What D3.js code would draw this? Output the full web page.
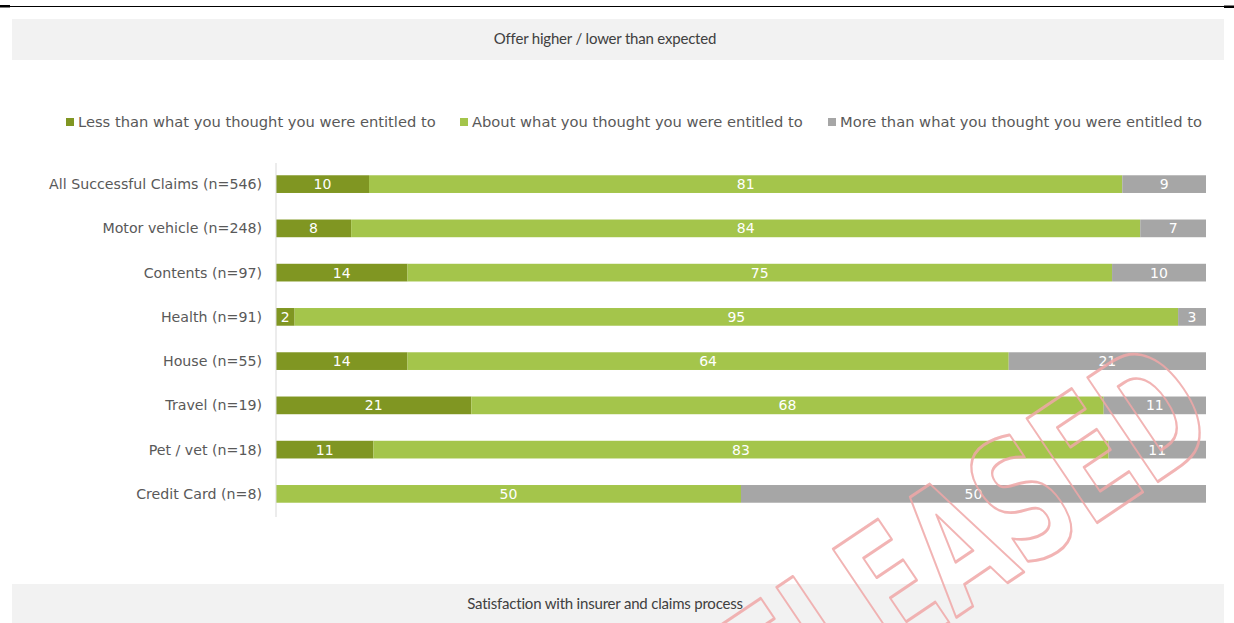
<!DOCTYPE html>
<html>
<head>
<meta charset="utf-8">
<script src="https://cdn.jsdelivr.net/npm/d3@7"></script>
<style>
  html, body { margin: 0; padding: 0; background: #fff; overflow: hidden; }
  svg { display: block; }
</style>
</head>
<body>
<div id="chart"></div>
<script>
const categories = [
  "All Successful Claims (n=546)",
  "Motor vehicle (n=248)",
  "Contents (n=97)",
  "Health (n=91)",
  "House (n=55)",
  "Travel (n=19)",
  "Pet / vet (n=18)",
  "Credit Card (n=8)"
];
const seriesNames = [
  "Less than what you thought you were entitled to",
  "About what you thought you were entitled to",
  "More than what you thought you were entitled to"
];
const lessValues  = [10, 8, 14, 2, 14, 21, 11, 0];
const aboutValues = [81, 84, 75, 95, 64, 68, 83, 50];
const moreValues  = [9, 7, 10, 3, 21, 11, 11, 50];
const colors = ["#809622", "#a4c54b", "#a6a6a6"];

const width = 1234, height = 623;
const svg = d3.select("#chart").append("svg").attr("width", width).attr("height", height);

// top rule
svg.append("line").attr("x1", 10).attr("x2", 1224).attr("y1", 6.5).attr("y2", 6.5)
  .attr("stroke", "#000").attr("stroke-width", 1);
svg.append("rect").attr("x", 0).attr("y", 5).attr("width", 10).attr("height", 2.5).attr("fill", "#000");
svg.append("rect").attr("x", 1224).attr("y", 5.5).attr("width", 10).attr("height", 2.5).attr("fill", "#000");

// section headers
function header(y, label) {
  svg.append("rect").attr("x", 12).attr("y", y).attr("width", 1212).attr("height", 41).attr("fill", "#f2f2f2");
  svg.append("text").attr("x", 605).attr("y", y + 21).attr("text-anchor", "middle")
    .attr("dominant-baseline", "middle").attr("font-family", "Lato, 'Open Sans', sans-serif")
    .attr("font-size", "15px").attr("letter-spacing", "-0.2px").attr("fill", "#404040").text(label);
}
header(19, "Offer higher / lower than expected");
header(584, "Satisfaction with insurer and claims process");

// legend
const legendX = [66, 460, 828];
const legend = svg.append("g").attr("font-family", "'DejaVu Sans', sans-serif").attr("font-size", "14.7px");
seriesNames.forEach((name, i) => {
  legend.append("rect").attr("x", legendX[i]).attr("y", 118).attr("width", 8).attr("height", 8).attr("fill", colors[i]);
  legend.append("text").attr("x", legendX[i] + 12).attr("y", 123).attr("dominant-baseline", "middle")
    .attr("fill", "#595959").text(name);
});

// scales
const y = d3.scaleBand().domain(categories).range([162, 516]).paddingInner(0.6).paddingOuter(0.3);
const x = d3.scaleLinear().domain([0, 1]).range([276, 1206]);

const rows = categories.map((c, i) => ({ cat: c, less: lessValues[i], about: aboutValues[i], more: moreValues[i] }));
const keys = ["less", "about", "more"];
rows.forEach(r => { const t = r.less + r.about + r.more; keys.forEach(k => r[k + "P"] = r[k] / t); });
const stack = d3.stack().keys(keys.map(k => k + "P"));
const series = stack(rows);

const bars = svg.append("g");
series.forEach((s, si) => {
  const g = bars.append("g").attr("fill", colors[si]);
  g.selectAll("rect").data(s).enter().append("rect")
    .attr("x", d => x(d[0]))
    .attr("y", d => y(d.data.cat))
    .attr("width", d => x(d[1]) - x(d[0]))
    .attr("height", y.bandwidth());
  bars.append("g").selectAll("text").data(s.filter(d => d.data[keys[si]] > 0)).enter().append("text")
    .attr("x", d => (x(d[0]) + x(d[1])) / 2)
    .attr("y", d => y(d.data.cat) + y.bandwidth() / 2 + 1)
    .attr("text-anchor", "middle").attr("dominant-baseline", "middle")
    .attr("font-family", "'DejaVu Sans', sans-serif").attr("font-size", "14px")
    .attr("fill", "#fff").text(d => d.data[keys[si]]);
});

// axis
const yAxis = svg.append("g").attr("transform", "translate(276,0)")
  .call(d3.axisLeft(y).tickSize(0).tickPadding(14));
yAxis.select(".domain").attr("stroke", "#d9d9d9").attr("d", "M0,163V517");
yAxis.selectAll("text").attr("font-family", "'DejaVu Sans', sans-serif").attr("font-size", "14.2px")
  .attr("fill", "#595959").attr("dy", "0.35em");

// watermark
svg.append("text")
  .attr("transform", "translate(940,572) rotate(-34)")
  .attr("text-anchor", "middle").attr("dominant-baseline", "middle")
  .attr("font-family", "'DejaVu Sans', sans-serif").attr("font-weight", "bold").attr("font-size", "172px")
  .attr("textLength", 620).attr("lengthAdjust", "spacingAndGlyphs")
  .attr("fill", "none").attr("stroke", "#f0a8a8").attr("stroke-width", 3).attr("stroke-linejoin", "round")
  .attr("opacity", 0.85)
  .text("RELEASED");
</script>
</body>
</html>
